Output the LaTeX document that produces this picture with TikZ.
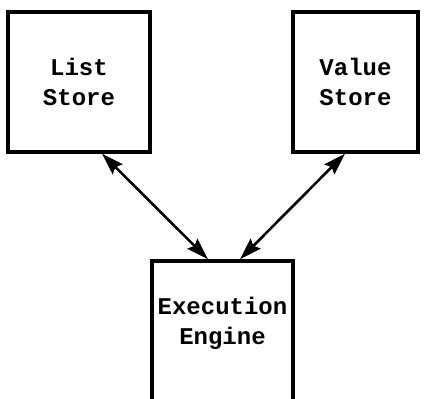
\documentclass[tikz,border=0pt]{standalone}
\usepackage{fontspec}
\setmonofont{Liberation Mono}
\usepackage{tikz}
\usetikzlibrary{arrows.meta}

\begin{document}
\begin{tikzpicture}[x=1pt,y=1pt,
    store/.style={draw,line width=3.4pt,align=center,
        font=\ttfamily\bfseries\fontsize{24}{30}\selectfont},
    link/.style={line width=2.6pt,{Stealth[length=22pt,width=14pt,inset=3pt]}-{Stealth[length=22pt,width=14pt,inset=3pt]}}]
\useasboundingbox (0, 0) rectangle (426, 399);
\node[store,minimum width=142,minimum height=140] (list) at (79, 317) {List\\Store};
\node[store,minimum width=125,minimum height=140] (value) at (355.5, 317) {Value\\Store};
\node[store,minimum width=141,minimum height=150] (engine) at (222.5, 63) {Execution\\Engine\\\mbox{}};
\draw[link] ([xshift=23pt]list.south) to ([xshift=-14.5pt]engine.north);
\draw[link] ([xshift=-10.5pt]value.south) to ([xshift=17.5pt]engine.north);
\end{tikzpicture}
\end{document}
